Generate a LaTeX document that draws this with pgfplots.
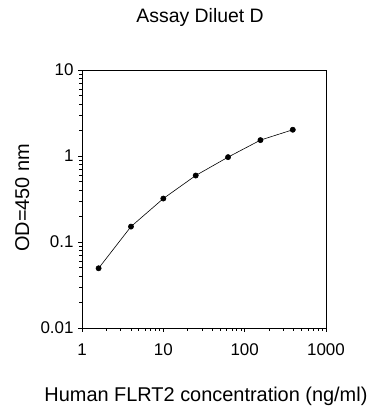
\documentclass[border=0pt]{standalone}
\usepackage{pgfplots}
\pgfplotsset{compat=1.18}
\usepackage{fontspec}
\setmainfont{Liberation Sans}
\begin{document}
\begin{tikzpicture}[x=1bp,y=1bp]
\useasboundingbox (0,0) rectangle (383,416);
\begin{axis}[
  at={(82bp,88bp)}, anchor=south west,
  scale only axis, width=244bp, height=258bp,
  xmode=log, ymode=log,
  xmin=1, xmax=1000, ymin=0.01, ymax=10,
  xtick={1,10,100,1000}, ytick={0.01,0.1,1,10},
  xticklabels={1,10,100,1000}, yticklabels={0.01,0.1,1,10},
  minor tick num=0, minor xtick={}, minor ytick={},
  tick align=outside, major tick length=4bp,
  xtick pos=bottom, ytick pos=left,
  axis line style={line width=0.8pt}, every tick/.style={black, line width=0.8pt},
  ticklabel style={font=\fontsize{17}{20}\selectfont},
  xticklabel style={yshift=-8bp},
  yticklabel style={xshift=-1bp},
  xlabel={Human FLRT2 concentration (ng/ml)},
  ylabel={OD=450 nm},
  title={Assay Diluet D},
  label style={font=\fontsize{20}{24}\selectfont},
  xlabel style={at={(axis description cs:0.508,-0.265)}, anchor=center},
  ylabel style={at={(axis description cs:-0.245,0.505)}, anchor=center, rotate=0},
  title style={at={(axis description cs:0.484,1.18)}, anchor=center, font=\fontsize{19.5}{23}\selectfont},
]
\addplot[black, line width=0.6pt, mark=*, mark size=2.6bp] coordinates {
  (1.6,0.0495) (4,0.151) (10,0.32) (25,0.593) (62.5,0.97) (156.25,1.53) (390.6,2.02)
};
\end{axis}
\end{tikzpicture}
\end{document}
